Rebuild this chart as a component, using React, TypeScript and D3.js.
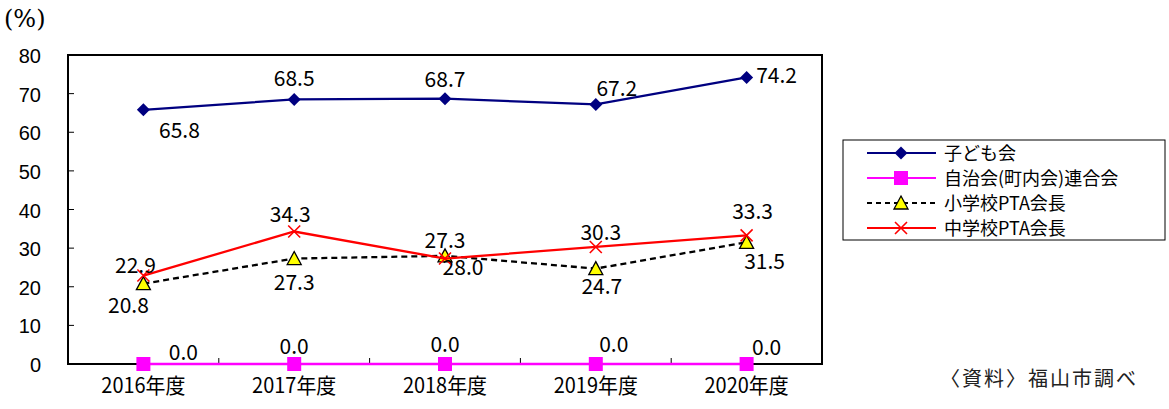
import { useEffect, useRef } from "react";
import * as d3 from "d3";

const years = ["2016年度", "2017年度", "2018年度", "2019年度", "2020年度"];
const kodomo = [65.8, 68.5, 68.7, 67.2, 74.2];
const jichikai = [0.0, 0.0, 0.0, 0.0, 0.0];
const shoPta = [20.8, 27.3, 28.0, 24.7, 31.5];
const chuPta = [22.9, 34.3, 27.3, 30.3, 33.3];
const yTicks = [0, 10, 20, 30, 40, 50, 60, 70, 80];

const seriesNames = ["子ども会", "自治会(町内会)連合会", "小学校PTA会長", "中学校PTA会長"];

// label offsets (dx, dy baseline) from the point, per series
const labelOffsets: [number, number][][] = [
  [[36, 28], [0, -13], [0, -12], [21, -8], [30, 6]],
  [[40, -4], [0, -10], [0, -12], [18, -12], [20, -9]],
  [[-15, 29], [0, 31], [18, 19], [6, 25], [18, 27]],
  [[-8, -3], [-4, -10], [0, -11], [5, -7], [6, -16]],
];

export default function App() {
  const ref = useRef<SVGSVGElement | null>(null);

  useEffect(() => {
    if (!ref.current) return;
    const svg = d3.select(ref.current);
    svg.selectAll("*").remove();

    const left = 68, right = 822, top = 55, bottom = 364;
    const font = "'Liberation Sans', 'Noto Sans CJK JP', sans-serif";
    const jpFont = "'Noto Sans CJK JP', sans-serif";

    const x = d3.scaleBand().domain(years).range([left, right]);
    const y = d3.scaleLinear().domain([0, 80]).range([bottom, top]);
    const cx = (i: number) => (x(years[i]) ?? 0) + x.bandwidth() / 2;

    // plot frame
    svg.append("rect")
      .attr("x", left).attr("y", top)
      .attr("width", right - left).attr("height", bottom - top)
      .attr("fill", "none").attr("stroke", "#000").attr("stroke-width", 2);

    // y ticks (inward)
    const yt = svg.append("g");
    yTicks.forEach((t) => {
      if (t > 0 && t < 80) {
        yt.append("line").attr("x1", left).attr("x2", left + 6)
          .attr("y1", y(t)).attr("y2", y(t)).attr("stroke", "#000").attr("stroke-width", 1);
      }
      yt.append("text").attr("x", 41).attr("y", y(t) + 8)
        .attr("text-anchor", "end").attr("font-family", font).attr("font-size", 20)
        .text(String(t));
    });

    // x ticks at band boundaries (inward)
    years.forEach((yr, i) => {
      if (i > 0) {
        const bx = x(yr) ?? 0;
        svg.append("line").attr("x1", bx).attr("x2", bx)
          .attr("y1", bottom).attr("y2", bottom - 6).attr("stroke", "#000").attr("stroke-width", 1);
      }
      svg.append("text").attr("x", cx(i)).attr("y", 393)
        .attr("text-anchor", "middle").attr("font-family", jpFont).attr("font-size", 21)
        .attr("transform", `translate(${cx(i)},0) scale(0.95,1) translate(${-cx(i)},0)`)
        .text(yr);
    });

    svg.append("text").attr("x", 4).attr("y", 27)
      .attr("font-family", "'DejaVu Serif', serif").attr("font-size", 24).text("(%)");

    svg.append("text").attr("x", 940).attr("y", 386)
      .attr("font-family", jpFont).attr("font-size", 20).attr("letter-spacing", 2).attr("fill", "#222")
      .text("〈資料〉福山市調べ");

    const lineGen = (vals: number[]) =>
      d3.line<number>().x((_, i) => cx(i)).y((v) => y(v))(vals) ?? "";

    const series = [
      { vals: kodomo, color: "#000080", dash: null as string | null, marker: "diamond" },
      { vals: jichikai, color: "#FF00FF", dash: null, marker: "square" },
      { vals: shoPta, color: "#000", dash: "6,4", marker: "triangle" },
      { vals: chuPta, color: "#FF0000", dash: null, marker: "x" },
    ];

    const drawMarker = (g: any, kind: string, px: number, py: number) => {
      if (kind === "diamond") {
        g.append("path").attr("d", `M${px},${py - 6.5}L${px + 6.5},${py}L${px},${py + 6.5}L${px - 6.5},${py}Z`)
          .attr("fill", "#000080");
      } else if (kind === "square") {
        g.append("rect").attr("x", px - 7).attr("y", py - 7).attr("width", 14).attr("height", 14)
          .attr("fill", "#FF00FF");
      } else if (kind === "triangle") {
        g.append("path").attr("d", `M${px},${py - 7}L${px + 7},${py + 6}L${px - 7},${py + 6}Z`)
          .attr("fill", "#FFFF00").attr("stroke", "#000").attr("stroke-width", 1.3);
      } else {
        g.append("path").attr("d", `M${px - 6},${py - 6}L${px + 6},${py + 6}M${px - 6},${py + 6}L${px + 6},${py - 6}`)
          .attr("stroke", "#FF0000").attr("stroke-width", 1.6).attr("fill", "none");
      }
    };

    series.forEach((s) => {
      const g = svg.append("g");
      g.append("path").attr("d", lineGen(s.vals)).attr("fill", "none")
        .attr("stroke", s.color).attr("stroke-width", 2.3)
        .attr("stroke-dasharray", s.dash);
      s.vals.forEach((v, i) => drawMarker(g, s.marker, cx(i), y(v)));
    });

    // data labels on top
    series.forEach((s, si) => {
      s.vals.forEach((v, i) => {
        const [dx, dy] = labelOffsets[si][i];
        svg.append("text").attr("x", cx(i) + dx).attr("y", y(v) + dy)
          .attr("text-anchor", "middle").attr("font-family", jpFont).attr("font-size", 21)
          .text(v.toFixed(1));
      });
    });

    // legend
    const lg = svg.append("g");
    lg.append("rect").attr("x", 843).attr("y", 140).attr("width", 322).attr("height", 100)
      .attr("fill", "#fff").attr("stroke", "#000").attr("stroke-width", 1);
    series.forEach((s, si) => {
      const ly = 153 + si * 25;
      lg.append("line").attr("x1", 867).attr("x2", 936).attr("y1", ly).attr("y2", ly)
        .attr("stroke", s.color).attr("stroke-width", 2).attr("stroke-dasharray", s.dash ? "5,4" : null);
      drawMarker(lg, s.marker, 901, ly);
      lg.append("text").attr("x", 944).attr("y", ly + 7)
        .attr("font-family", jpFont).attr("font-size", 18).text(seriesNames[si]);
    });
  }, []);

  return (
    <svg
      ref={ref}
      width={1169}
      height={409}
      style={{ position: "absolute", left: 0, top: 0, background: "#fff" }}
    />
  );
}
